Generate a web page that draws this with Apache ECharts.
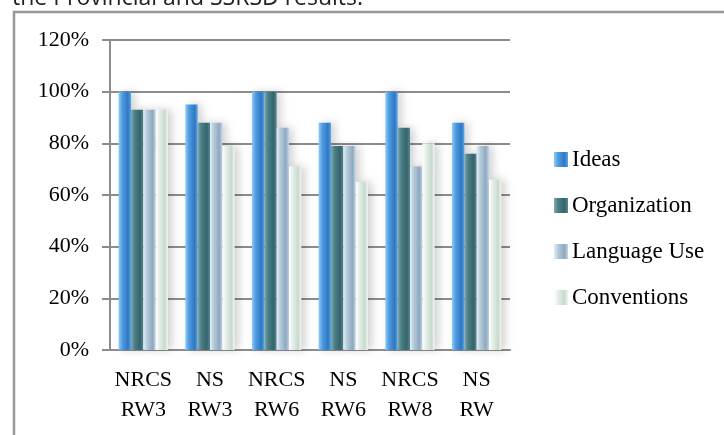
<!DOCTYPE html>
<html>
<head>
<meta charset="utf-8">
<script src="https://cdn.jsdelivr.net/npm/echarts@6/dist/echarts.min.js"></script>
<style>html,body{margin:0;padding:0;background:#fff;}#c{width:724px;height:435px;}</style>
</head>
<body>
<div id="c"></div>
<script>
var categories = ['NRCS\nRW3', 'NS\nRW3', 'NRCS\nRW6', 'NS\nRW6', 'NRCS\nRW8', 'NS\nRW'];
var seriesNames = ['Ideas', 'Organization', 'Language Use', 'Conventions'];
var ideas = [100, 95, 100, 88, 100, 88];
var organization = [93, 88, 100, 79, 86, 76];
var languageUse = [93, 88, 86, 79, 71, 79];
var conventions = [93, 79, 71, 65, 80, 66];
var yTicks = [0, 20, 40, 60, 80, 100, 120];

var palettes = [
  ['#8ccbf7', '#4f9be2', '#2f78c4', '#5aa6e8'],
  ['#7fa9ae', '#4a7f87', '#35646c', '#5b8c93'],
  ['#e2eef8', '#b4cadb', '#8fa9bf', '#c5d8e8'],
  ['#ffffff', '#e4eee8', '#c8dacd', '#f2f7f3']
];
function grad(p) {
  return new echarts.graphic.LinearGradient(0, 0, 1, 0, [
    {offset: 0, color: p[0]}, {offset: 0.3, color: p[1]},
    {offset: 0.75, color: p[2]}, {offset: 1, color: p[3]}
  ]);
}
var allData = [ideas, organization, languageUse, conventions];
var series = seriesNames.map(function (n, i) {
  return {
    name: n, type: 'bar', data: allData[i],
    barGap: '0%', barCategoryGap: '26%',
    itemStyle: {color: grad(palettes[i]), shadowBlur: 8, shadowColor: 'rgba(0,0,0,0.18)', shadowOffsetX: 4, shadowOffsetY: 0},
    emphasis: {disabled: true}
  };
});

var chart = echarts.init(document.getElementById('c'));
chart.setOption({
  animation: false,
  textStyle: {fontFamily: 'Liberation Serif'},
  grid: {left: 110, right: 214, top: 40, bottom: 85},
  legend: {
    orient: 'vertical', left: 549, top: 143, itemGap: 23, itemWidth: 14, itemHeight: 15, itemGap: 23,
    icon: 'rect',
    textStyle: {fontFamily: 'Liberation Serif', fontSize: 23, color: '#000', padding: [0, 0, 0, -1]},
    data: seriesNames.map(function (n, i) { return {name: n, itemStyle: {color: grad(palettes[i])}}; })
  },
  xAxis: {
    type: 'category', data: categories,
    axisLine: {lineStyle: {color: '#8c8c8c', width: 2}},
    axisTick: {length: 7, lineStyle: {color: '#8c8c8c', width: 2}},
    axisLabel: {fontFamily: 'Liberation Serif', fontSize: 22, color: '#000', lineHeight: 30, margin: 15, interval: 0}
  },
  yAxis: {
    type: 'value', min: yTicks[0], max: yTicks[yTicks.length - 1], interval: 20,
    axisLine: {show: true, lineStyle: {color: '#8c8c8c', width: 2}},
    axisTick: {show: true, length: 8, lineStyle: {color: '#8c8c8c', width: 2}},
    splitLine: {lineStyle: {color: '#8c8c8c', width: 2}},
    axisLabel: {fontFamily: 'Liberation Serif', fontSize: 22, color: '#000', margin: 21, formatter: '{value}%'}
  },
  graphic: [
    {type: 'text', left: 12, top: -13, style: {text: 'the Provincial and SSRSD results.', font: '23px "Open Sans"', fill: '#222'}},
    {type: 'polyline', shape: {points: [[14, 440], [14, 12], [730, 12]]}, style: {stroke: '#999', lineWidth: 2.5, fill: null}}
  ],
  series: series
});
</script>
</body>
</html>
